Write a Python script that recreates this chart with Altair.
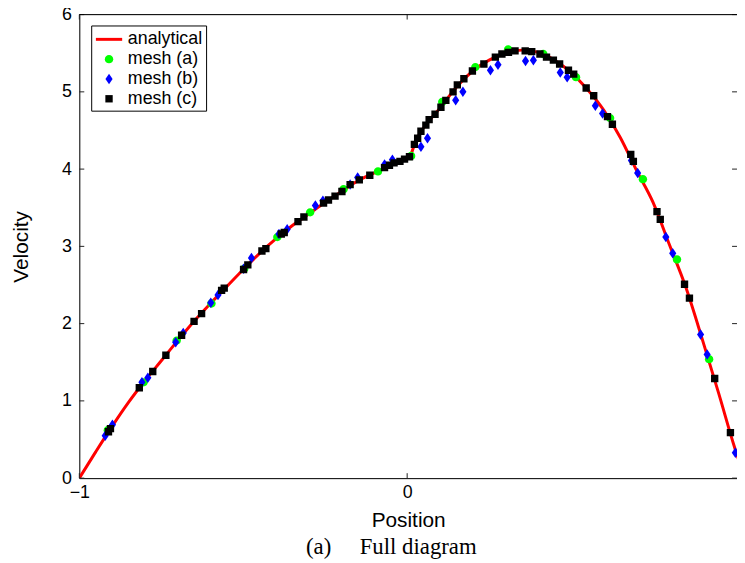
import altair as alt
import pandas as pd

# analytical curve
analytical_x = [-1.0, -0.95, -0.9, -0.85, -0.8, -0.75, -0.7, -0.65, -0.6, -0.55, -0.5, -0.45,
                -0.4, -0.35, -0.3, -0.25, -0.2, -0.15, -0.1, -0.05, 0.0, 0.012, 0.025, 0.04,
                0.06, 0.08, 0.1, 0.12, 0.15, 0.2, 0.25, 0.3, 0.35, 0.4, 0.45, 0.5, 0.55, 0.6,
                0.65, 0.7, 0.75, 0.8, 0.85, 0.9, 0.95, 1.0, 1.03]
analytical_y = [0.0, 0.34, 0.67, 0.98, 1.26, 1.52, 1.78, 2.03, 2.26, 2.48, 2.70, 2.91,
                3.10, 3.27, 3.42, 3.57, 3.71, 3.85, 3.95, 4.05, 4.15, 4.20, 4.35, 4.47,
                4.59, 4.69, 4.79, 4.90, 5.06, 5.27, 5.41, 5.50, 5.54, 5.51, 5.41, 5.25, 5.03, 4.76,
                4.41, 3.98, 3.57, 3.02, 2.47, 1.80, 1.10, 0.38, 0.0]

# mesh (a)
mesh_a_x = [-0.913, -0.804, -0.703, -0.597, -0.497, -0.396, -0.296, -0.194, -0.089, 0.012,
            0.107, 0.208, 0.308, 0.415, 0.515, 0.619, 0.719, 0.823, 0.921]
mesh_a_y = [0.62, 1.24, 1.78, 2.26, 2.71, 3.12, 3.44, 3.74, 3.97, 4.17,
            4.87, 5.32, 5.55, 5.49, 5.19, 4.66, 3.87, 2.83, 1.54]

# mesh (b)
mesh_b_x = [-0.921, -0.899, -0.809, -0.791, -0.706, -0.683, -0.599, -0.577, -0.499, -0.475,
            -0.391, -0.366, -0.280, -0.257, -0.174, -0.151, -0.069, -0.045, 0.042, 0.062,
            0.148, 0.170, 0.254, 0.277, 0.361, 0.385, 0.467, 0.488, 0.574, 0.596,
            0.684, 0.703, 0.789, 0.810, 0.895, 0.915, 1.001]
mesh_b_y = [0.55, 0.69, 1.24, 1.30, 1.76, 1.88, 2.27, 2.37, 2.71, 2.85,
            3.16, 3.22, 3.53, 3.59, 3.80, 3.89, 4.06, 4.12, 4.29, 4.40,
            4.89, 5.00, 5.28, 5.35, 5.40, 5.41, 5.25, 5.19, 4.82, 4.72,
            4.11, 3.95, 3.12, 2.91, 1.86, 1.60, 0.33]

# mesh (c)
mesh_c_x = [-0.911, -0.905, -0.817, -0.776, -0.736, -0.688, -0.650, -0.627, -0.566, -0.558,
            -0.499, -0.486, -0.443, -0.431, -0.384, -0.375, -0.333, -0.315, -0.255, -0.240,
            -0.220, -0.199, -0.174, -0.146, -0.114, -0.069, -0.054, -0.040, -0.022, -0.008,
            0.007, 0.022, 0.032, 0.042, 0.057, 0.067, 0.085, 0.103, 0.118, 0.140,
            0.153, 0.173, 0.199, 0.234, 0.269, 0.289, 0.309, 0.329, 0.360, 0.380,
            0.405, 0.425, 0.446, 0.465, 0.492, 0.508, 0.546, 0.569, 0.611, 0.626,
            0.682, 0.690, 0.762, 0.772, 0.846, 0.861, 0.938, 0.986]
mesh_c_y = [0.60, 0.64, 1.17, 1.38, 1.59, 1.85, 2.03, 2.13, 2.43, 2.46,
            2.70, 2.76, 2.94, 2.97, 3.16, 3.18, 3.32, 3.38, 3.56, 3.60,
            3.65, 3.71, 3.80, 3.86, 3.92, 4.02, 4.05, 4.08, 4.10, 4.13,
            4.16, 4.32, 4.40, 4.49, 4.57, 4.64, 4.71, 4.80, 4.89, 5.00,
            5.09, 5.17, 5.27, 5.36, 5.45, 5.49, 5.51, 5.53, 5.53, 5.52,
            5.49, 5.45, 5.41, 5.36, 5.28, 5.23, 5.05, 4.95, 4.68, 4.58,
            4.19, 4.10, 3.45, 3.35, 2.51, 2.33, 1.29, 0.59]

series_names = ["analytical", "mesh (a)", "mesh (b)", "mesh (c)"]
series_colors = ["#ff0000", "#00ff00", "#0000ff", "#000000"]
x_tick_values = [-1, 0]
y_tick_values = [0, 1, 2, 3, 4, 5, 6]

W, H = 664, 468
FONT = "Liberation Sans"
SYM_SIZE = 450  # symbol paths below are scaled by sqrt(450)/2 px per unit
LINE_SYM = "M-1.25,-0.14L1.25,-0.14L1.25,0.14L-1.25,0.14Z"
CIRCLE_SYM = "M0.4,0A0.4,0.4,0,1,1,-0.4,0A0.4,0.4,0,1,1,0.4,0Z"
DIAMOND_SYM = "M0,-0.5L0.34,0L0,0.5L-0.34,0Z"
SQUARE_SYM = "M-0.35,-0.35L0.35,-0.35L0.35,0.35L-0.35,0.35Z"

curve_df = pd.DataFrame({"x": analytical_x, "y": analytical_y, "series": "analytical"})
mesh_df = pd.concat([
    pd.DataFrame({"x": mesh_a_x, "y": mesh_a_y, "series": "mesh (a)"}),
    pd.DataFrame({"x": mesh_b_x, "y": mesh_b_y, "series": "mesh (b)"}),
    pd.DataFrame({"x": mesh_c_x, "y": mesh_c_y, "series": "mesh (c)"}),
], ignore_index=True)

xscale = alt.Scale(domain=[-1, -1 + W / 331.0], nice=False, zero=False)
yscale = alt.Scale(domain=[0, 6], nice=False)

xaxis = alt.Axis(values=x_tick_values, format="d", tickSize=0, labelPadding=6, labelFontSize=18,
                 labelFont=FONT, labelColor="black", labelFlush=False, grid=False,
                 domainColor="black", domainWidth=1, title="Position", titleFont=FONT,
                 titleFontSize=21, titleFontWeight="normal", titleColor="black",
                 titleY=49, titleBaseline="alphabetic")
yaxis = alt.Axis(values=y_tick_values, format="d", tickSize=0, labelPadding=8, labelFontSize=18,
                 labelFont=FONT, labelColor="black", labelFlush=False, grid=False,
                 domainColor="black", domainWidth=1, title="Velocity", titleFont=FONT,
                 titleFontSize=21, titleFontWeight="normal", titleColor="black",
                 titleX=-52, titleAngle=270, titleBaseline="alphabetic")

color_scale = alt.Scale(domain=series_names, range=series_colors)
shape_scale = alt.Scale(domain=series_names,
                        range=[LINE_SYM, CIRCLE_SYM, DIAMOND_SYM, SQUARE_SYM])

legend = alt.Legend(
    title=None, orient="none", legendX=12, legendY=11,
    strokeColor="black", fillColor="white", padding=3, cornerRadius=0,
    labelFont=FONT, labelFontSize=18, labelColor="black", labelOffset=8,
    symbolSize=SYM_SIZE, symbolOffset=4, rowPadding=0, symbolOpacity=1,
    symbolStrokeWidth=0,
)

line = alt.Chart(curve_df).mark_line(strokeWidth=3, clip=True, interpolate="monotone").encode(
    x=alt.X("x:Q", scale=xscale, axis=xaxis),
    y=alt.Y("y:Q", scale=yscale, axis=yaxis),
    color=alt.Color("series:N", scale=color_scale, legend=legend),
)

points = alt.Chart(mesh_df).mark_point(filled=True, opacity=1, strokeWidth=0, size=SYM_SIZE,
                                       clip=True).encode(
    x="x:Q",
    y="y:Q",
    color=alt.Color("series:N", scale=color_scale, legend=legend),
    shape=alt.Shape("series:N", scale=shape_scale, legend=legend),
)

ytick_df = pd.DataFrame({"y": y_tick_values})
xtick_df = pd.DataFrame({"x": x_tick_values})
tick_color = "#222222"
yticks_left = alt.Chart(ytick_df).mark_rule(color=tick_color, strokeWidth=1).encode(
    y="y:Q", x=alt.value(0), x2=alt.value(5))
yticks_right = alt.Chart(ytick_df).mark_rule(color=tick_color, strokeWidth=1).encode(
    y="y:Q", x=alt.value(W - 5), x2=alt.value(W))
xticks_bottom = alt.Chart(xtick_df).mark_rule(color=tick_color, strokeWidth=1).encode(
    x="x:Q", y=alt.value(H), y2=alt.value(H - 5))
xticks_top = alt.Chart(xtick_df).mark_rule(color=tick_color, strokeWidth=1).encode(
    x="x:Q", y=alt.value(0), y2=alt.value(5))
top_border = alt.Chart(pd.DataFrame({"y": [6]})).mark_rule(color="black", strokeWidth=1).encode(
    y="y:Q", x=alt.value(0), x2=alt.value(W))

chart = alt.layer(
    line, points, yticks_left, yticks_right, xticks_bottom, xticks_top, top_border
).properties(
    width=W, height=H,
    autosize=alt.AutoSizeParams(type="none"),
    padding={"left": 72, "top": 4, "right": 0, "bottom": 80},
    title=alt.TitleParams(text="(a)\u00a0\u00a0\u00a0\u00a0\u00a0Full diagram", orient="bottom",
                          font="Liberation Serif", fontSize=23, fontWeight="normal",
                          color="black", dx=-17, offset=6),
).configure_view(stroke=None).configure(background="white")

chart.save("out.html", embed_options={"renderer": "svg", "actions": False})
